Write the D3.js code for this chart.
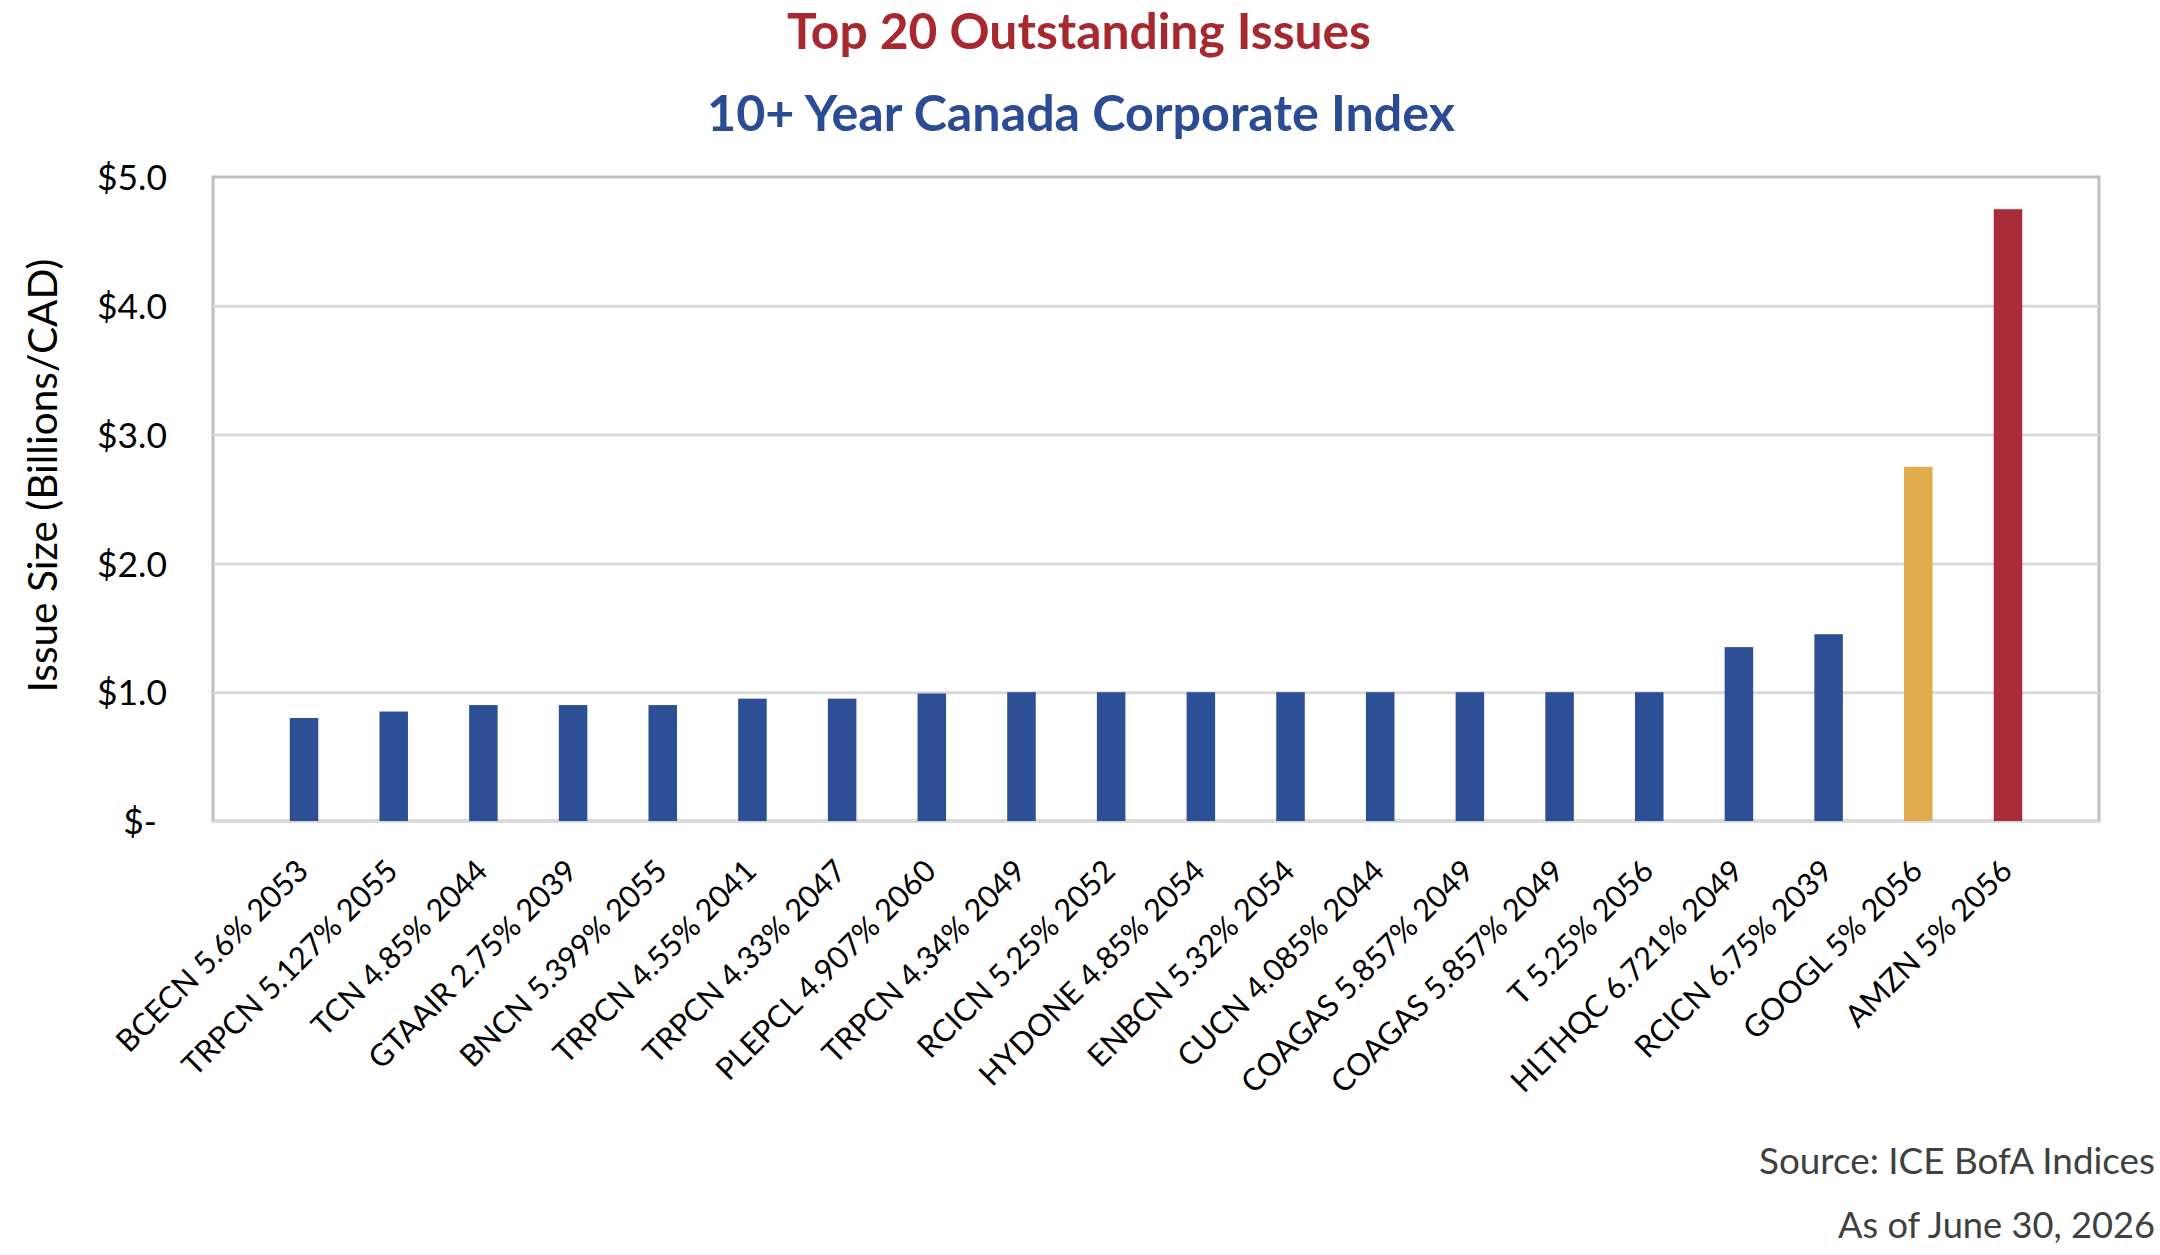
<!DOCTYPE html>
<html lang="en">
<head>
  <meta charset="UTF-8">
  <title>Top 20 Outstanding Issues</title>
  <script src="https://cdn.jsdelivr.net/npm/d3@7"></script>
  <style>
    body { margin: 0; background: #fff; }
    svg { display: block; font-family: Lato, "Open Sans", sans-serif; }
  </style>
</head>
<body>
<svg id="chart"></svg>
<script>
  // data
  const issues = [
    "BCECN 5.6% 2053", "TRPCN 5.127% 2055", "TCN 4.85% 2044", "GTAAIR 2.75% 2039",
    "BNCN 5.399% 2055", "TRPCN 4.55% 2041", "TRPCN 4.33% 2047", "PLEPCL 4.907% 2060",
    "TRPCN 4.34% 2049", "RCICN 5.25% 2052", "HYDONE 4.85% 2054", "ENBCN 5.32% 2054",
    "CUCN 4.085% 2044", "COAGAS 5.857% 2049", "COAGAS 5.857% 2049 ", "T 5.25% 2056",
    "HLTHQC 6.721% 2049", "RCICN 6.75% 2039", "GOOGL 5% 2056", "AMZN 5% 2056"
  ]
  const sizes = [0.8, 0.85, 0.9, 0.9, 0.9, 0.95, 0.95, 0.99, 1.0, 1.0,
                 1.0, 1.0, 1.0, 1.0, 1.0, 1.0, 1.35, 1.45, 2.75, 4.75]
  const yTicks = [0, 1, 2, 3, 4, 5]

  const title = "Top 20 Outstanding Issues"
  const subtitle = "10+ Year Canada Corporate Index"
  const yTitle = "Issue Size (Billions/CAD)"
  const notes = ["Source: ICE BofA Indices", "As of June 30, 2026"]

  const baseColor = "#2D4F96"
  const highlight = { "GOOGL 5% 2056": "#E0AC4C", "AMZN 5% 2056": "#A92D38" }

  const width = 2160, height = 1255
  const plot = { left: 213, right: 2099, top: 177, bottom: 821 }

  const svg = d3.select("#chart").attr("width", width).attr("height", height)

  // shrink/grow a text so it spans the width seen in the picture
  function fit(sel, target) {
    const w = sel.node().getComputedTextLength()
    const fs = parseFloat(sel.style("font-size"))
    sel.style("font-size", (fs * target / w) + "px")
  }

  const x = d3.scaleBand()
    .domain(issues)
    .range([plot.left, plot.right])
    .paddingInner(0.682)
    .paddingOuter(0.856)

  const y = d3.scaleLinear()
    .domain([0, 5])
    .range([plot.bottom, plot.top])

  // plot frame
  svg.append("rect")
    .attr("x", plot.left).attr("y", plot.top)
    .attr("width", plot.right - plot.left)
    .attr("height", plot.bottom - plot.top)
    .attr("fill", "none")
    .attr("stroke", "#bfbfbf")
    .attr("stroke-width", 3)

  // gridlines
  svg.append("g")
    .attr("transform", `translate(${plot.left},0)`)
    .call(d3.axisLeft(y).tickValues(yTicks.slice(1, -1)).tickSize(-(plot.right - plot.left)).tickFormat(""))
    .call(g => g.select(".domain").remove())
    .selectAll("line")
    .attr("stroke", "#d9d9d9")
    .attr("stroke-width", 3)

  svg.append("line")
    .attr("x1", plot.left).attr("x2", plot.right)
    .attr("y1", y(0)).attr("y2", y(0))
    .attr("stroke", "#d9d9d9")
    .attr("stroke-width", 3)

  // bars
  svg.append("g")
    .selectAll("rect")
    .data(issues)
    .join("rect")
    .attr("x", d => x(d))
    .attr("width", x.bandwidth())
    .attr("y", (d, i) => y(sizes[i]))
    .attr("height", (d, i) => y(0) - y(sizes[i]))
    .attr("fill", d => highlight[d] || baseColor)

  // y axis labels
  const yAxis = svg.append("g")
    .attr("transform", `translate(${plot.left},0)`)
    .call(d3.axisLeft(y).tickValues(yTicks).tickSize(0).tickPadding(46)
      .tickFormat(d => d === 0 ? "$-" : "$" + d.toFixed(1)))
    .call(g => g.select(".domain").remove())
  yAxis.selectAll("text")
    .attr("fill", "#000")
    .style("font-family", "Lato, sans-serif")
    .style("font-size", "38px")
    .attr("dy", "0.36em")
    .attr("dx", d => d === 0 ? -10 : 0)
  const fs5 = yAxis.selectAll("text").filter(d => d === 5)
  fit(fs5, 70)
  yAxis.selectAll("text").style("font-size", fs5.style("font-size"))

  // x axis labels
  const xAxis = svg.append("g")
    .attr("transform", `translate(0,${plot.bottom})`)
    .call(d3.axisBottom(x).tickSize(0).tickFormat(d => d.trim()))
    .call(g => g.select(".domain").remove())
  xAxis.selectAll("text")
    .attr("fill", "#000")
    .style("font-family", "Lato, sans-serif")
    .style("font-size", "34px")
    .attr("text-anchor", "end")
    .attr("x", 0).attr("y", 0).attr("dy", 0)
    .attr("transform", "translate(6,52) rotate(-45)")
  const first = xAxis.selectAll("text").filter((d, i) => i === 0)
  fit(first, 256)
  xAxis.selectAll("text").style("font-size", first.style("font-size"))

  // y axis title
  const yt = svg.append("text")
    .attr("transform", `translate(57,${(259 + 692) / 2}) rotate(-90)`)
    .attr("text-anchor", "middle")
    .attr("fill", "#000")
    .style("font-size", "42px")
    .text(yTitle)
  fit(yt, 434)

  // titles
  const t1 = svg.append("text")
    .attr("x", 1079).attr("y", 49)
    .attr("text-anchor", "middle")
    .attr("fill", "#A8282F")
    .style("font-weight", 700)
    .style("font-size", "50px")
    .text(title)
  fit(t1, 584)

  const t2 = svg.append("text")
    .attr("x", 1081).attr("y", 131)
    .attr("text-anchor", "middle")
    .attr("fill", "#2B4C94")
    .style("font-weight", 700)
    .style("font-size", "50px")
    .text(subtitle)
  fit(t2, 748)

  // source notes
  const noteY = [1174, 1238], noteW = [396, 317]
  notes.forEach((s, i) => {
    const n = svg.append("text")
      .attr("x", 2155).attr("y", noteY[i])
      .attr("text-anchor", "end")
      .attr("fill", "#404040")
      .style("font-size", "38px")
      .text(s)
    fit(n, noteW[i])
  })
</script>
</body>
</html>
